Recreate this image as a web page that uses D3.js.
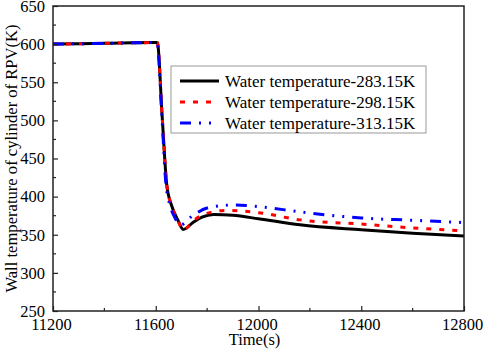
<!DOCTYPE html>
<html>
<head>
<meta charset="utf-8">
<script src="https://cdn.jsdelivr.net/npm/d3@7"></script>
<style>
  body { margin: 0; background: #fff; }
  svg text { font-family: "Times New Roman", "Liberation Serif", "DejaVu Serif", serif; fill: #000; }
</style>
</head>
<body>
<div id="chart"></div>
<script>
// series: time (s) and wall temperature (K)
const time283 = [11200, 11400, 11600, 11606, 11625, 11643, 11662, 11685, 11707, 11745, 11780, 11825, 11900, 12000, 12161, 12400, 12600, 12800];
const temp283 = [600, 601, 602, 602, 505, 415, 388, 370, 357, 366, 373, 376.5, 375.5, 371, 363, 356.5, 352, 348.5];

const time298 = [11200, 11400, 11600, 11606, 11625, 11643, 11662, 11685, 11707, 11745, 11790, 11876, 12000, 12161, 12400, 12600, 12800];
const temp298 = [600, 601, 602, 602, 505, 415, 388, 370, 356, 368, 377, 382, 379, 369.5, 364, 359, 355];

const time313 = [11200, 11400, 11600, 11605, 11624, 11640, 11656, 11675, 11698, 11740, 11800, 11900, 12000, 12161, 12400, 12600, 12800];
const temp313 = [600, 601, 602, 602, 505, 415, 388, 372, 363, 374, 385, 389, 387, 380, 372, 369, 366];

const seriesNames = ["Water temperature-283.15K", "Water temperature-298.15K", "Water temperature-313.15K"];
const xTicks = [11200, 11600, 12000, 12400, 12800];
const yTicks = [250, 300, 350, 400, 450, 500, 550, 600, 650];

const series = [
  { name: seriesNames[0], t: time283, v: temp283, color: "#000", dash: null },
  { name: seriesNames[1], t: time298, v: temp298, color: "#ff0000", dash: "5,8" },
  { name: seriesNames[2], t: time313, v: temp313, color: "#0000ff", dash: "11,8,2,8,2,8" }
];

const W = 484, H = 358;
const margin = { top: 6, right: 20, bottom: 47, left: 53 },
      width = W - margin.left - margin.right,
      height = H - margin.top - margin.bottom;

const svg = d3.select("#chart").append("svg")
  .attr("width", W)
  .attr("height", H)
  .append("g")
  .attr("transform", `translate(${margin.left},${margin.top})`);

const x = d3.scaleLinear().domain([11200, 12800]).range([0, width]);
const y = d3.scaleLinear().domain([250, 650]).range([height, 0]);

svg.append("clipPath").attr("id", "clip")
  .append("rect").attr("width", width).attr("height", height);

const line = d3.line()
  .x(d => x(d[0]))
  .y(d => y(d[1]))
  .curve(d3.curveMonotoneX);

series.forEach(s => {
  svg.append("path")
    .datum(s.t.map((t, i) => [t, s.v[i]]))
    .attr("clip-path", "url(#clip)")
    .attr("fill", "none")
    .attr("stroke", s.color)
    .attr("stroke-width", 3)
    .attr("stroke-dasharray", s.dash)
    .attr("d", line);
});

// axes: ticks pointing inward
const xAxis = svg.append("g")
  .attr("transform", `translate(0,${height})`)
  .call(d3.axisBottom(x).tickValues(xTicks).tickSize(-5).tickPadding(7.5).tickFormat(d3.format("d")));
xAxis.append("g").selectAll("line")
  .data(d3.range(11400, 12800, 400))
  .enter().append("line")
  .attr("x1", d => x(d)).attr("x2", d => x(d))
  .attr("y1", 0).attr("y2", -3)
  .attr("stroke", "#222").attr("stroke-width", 1.2);
xAxis.selectAll(".tick text").attr("dx", -2);

const yAxis = svg.append("g")
  .call(d3.axisLeft(y).tickValues(yTicks).tickSize(-5).tickPadding(8).tickFormat(d3.format("d")));
yAxis.append("g").selectAll("line")
  .data(d3.range(275, 650, 50))
  .enter().append("line")
  .attr("x1", 0).attr("x2", 3)
  .attr("y1", d => y(d)).attr("y2", d => y(d))
  .attr("stroke", "#222").attr("stroke-width", 1.2);

[xAxis, yAxis].forEach(a => {
  a.attr("font-family", null);
  a.select(".domain").remove();
  a.selectAll(".tick line").attr("stroke", "#222").attr("stroke-width", 1.2);
  a.selectAll("text").style("font-size", "16.5px");
});

// frame
svg.append("rect")
  .attr("width", width).attr("height", height)
  .attr("fill", "none").attr("stroke", "#222").attr("stroke-width", 1.5);

// axis titles
svg.append("text")
  .attr("x", width / 2 - 4)
  .attr("y", height + 34)
  .attr("text-anchor", "middle")
  .style("font-size", "16.5px")
  .text("Time(s)");

svg.append("text")
  .attr("transform", `translate(${-42},${height / 2}) rotate(-90)`)
  .attr("text-anchor", "middle")
  .attr("dy", "0.35em")
  .style("font-size", "16.6px")
  .text("Wall temperature of cylinder of RPV(K)");

// legend
const legend = svg.append("g").attr("transform", `translate(${171 - margin.left},${66 - margin.top})`);
legend.append("rect")
  .attr("width", 255).attr("height", 67)
  .attr("fill", "#fff").attr("stroke", "#999").attr("stroke-width", 1);

series.forEach((s, i) => {
  const ly = 15 + i * 21;
  legend.append("line")
    .attr("x1", 9).attr("x2", 48)
    .attr("y1", ly).attr("y2", ly)
    .attr("stroke", s.color).attr("stroke-width", 3)
    .attr("stroke-dasharray", s.dash);
  legend.append("text")
    .attr("x", 54).attr("y", ly)
    .attr("dy", "0.35em")
    .style("font-size", "17px")
    .text(s.name);
});
</script>
</body>
</html>
